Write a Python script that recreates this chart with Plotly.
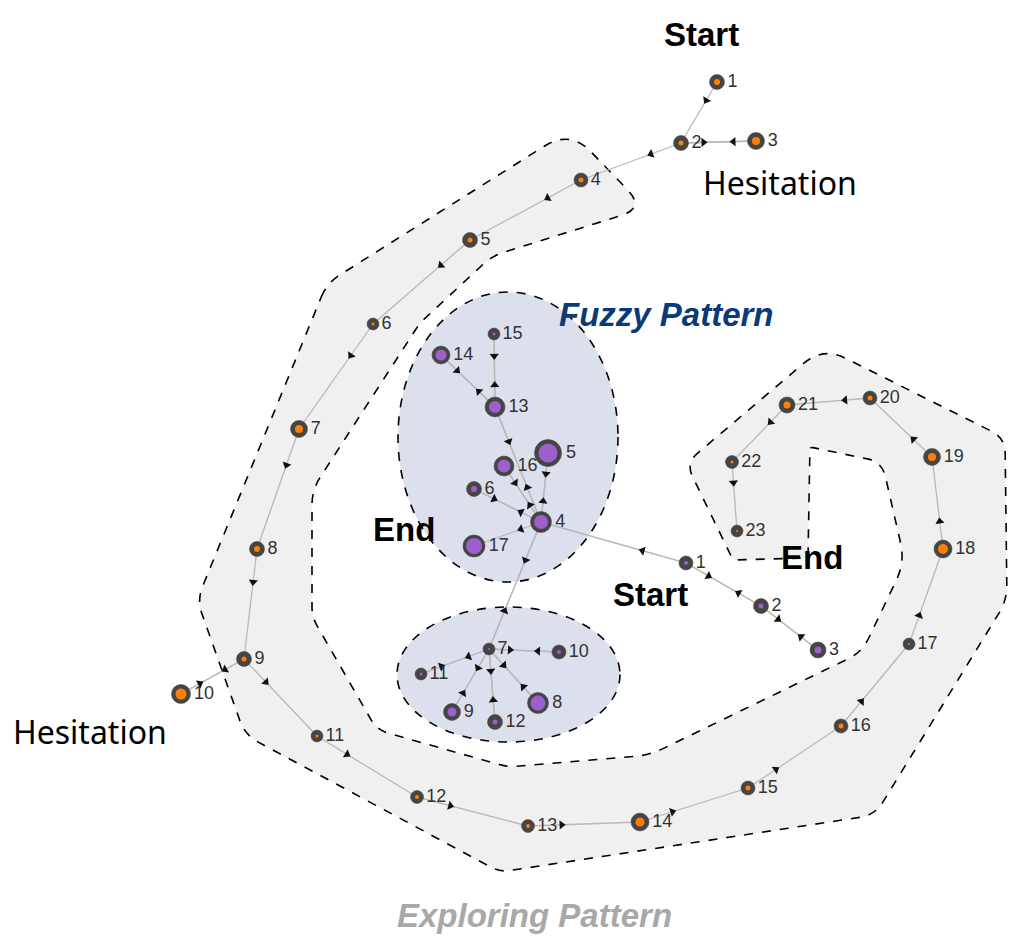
import math
import plotly.graph_objects as go

# exploring pattern (orange) - node ids, positions in picture pixels, sizes
ex_id = list(range(1, 24))
ex_x = [717, 681, 756, 581, 470, 373, 299, 257, 244, 181, 317, 417, 528, 640, 748, 841, 909, 943, 932, 870, 787, 732, 737]
ex_y = [82, 143, 141, 180, 240, 324, 429, 549, 659, 694, 736, 797, 826, 822, 788, 726, 644, 549, 457, 398, 405, 462, 531]
ex_size = [15, 15, 17, 14, 15, 12, 17, 15, 15, 19, 12, 13, 13, 18, 14, 14, 12, 18, 17, 14, 16, 13, 12]
ex_core = [6, 5, 8, 5, 5, 3, 8, 6, 5, 11, 3, 4, 4, 9, 5, 5, 2, 10, 8, 5, 7, 3, 2]
ex_edges = [(1, 2), (2, 3), (3, 2), (2, 4), (4, 5), (5, 6), (6, 7), (7, 8), (8, 9), (9, 10), (10, 9),
            (9, 11), (11, 12), (12, 13), (13, 14), (14, 15), (15, 16), (16, 17), (17, 18), (18, 19),
            (19, 20), (20, 21), (21, 22), (22, 23)]

# fuzzy pattern (purple)
fz_id = list(range(1, 18))
fz_x = [686, 761, 818, 541, 548, 474, 489, 538, 452, 559, 421, 495, 495, 441, 494, 504, 474]
fz_y = [563, 606, 650, 522, 453, 489, 649, 703, 712, 652, 674, 722, 407, 355, 334, 466, 546]
fz_size = [14, 15, 16, 21, 27, 15, 12, 21, 17, 14, 12, 15, 20, 18, 12, 20, 22]
fz_core = [4, 5, 7, 14, 19, 6, 2, 15, 9, 4, 3, 5, 12, 11, 3, 13, 16]
fz_edges = [(1, 2), (2, 3), (3, 2), (2, 1), (1, 4), (4, 5), (5, 4), (4, 6), (6, 4), (4, 7),
            (7, 8), (8, 7), (7, 9), (9, 7), (7, 10), (10, 7), (7, 11), (11, 7), (7, 12), (12, 7),
            (7, 4), (4, 13), (13, 14), (14, 13), (13, 15), (15, 13), (13, 4), (4, 16), (16, 4), (4, 17)]

# outline of the exploring region and the fuzzy ellipses
band_pts = [(327, 283), (570, 130), (645, 208), (492, 256), (420, 323), (312, 490), (312, 617),
            (377, 730), (508, 767), (650, 755), (862, 652), (905, 562), (882, 462), (810, 447),
            (808, 558), (733, 560), (686, 463), (823, 347), (1005, 438), (1007, 600), (875, 815),
            (500, 872), (245, 735), (197, 600)]
band_r = [15, 30, 25, 12, 6, 15, 10, 12, 8, 15, 15, 20, 15, 3, 0, 3, 15, 25, 15, 15, 15, 10, 15, 15]

ORANGE = "#ff7f00"
PURPLE = "#9c5fcc"
RING = "#454545"


def rounded_path(pts, radii):
    n = len(pts)
    out = []
    for i in range(n):
        x0, y0 = pts[i - 1]
        x1, y1 = pts[i]
        x2, y2 = pts[(i + 1) % n]
        d0 = math.hypot(x0 - x1, y0 - y1)
        d2 = math.hypot(x2 - x1, y2 - y1)
        r = min(radii[i], d0 / 2, d2 / 2)
        ax, ay = x1 + (x0 - x1) / d0 * r, y1 + (y0 - y1) / d0 * r
        bx, by = x1 + (x2 - x1) / d2 * r, y1 + (y2 - y1) / d2 * r
        out.append(("M" if i == 0 else "L") + f" {ax:.1f},{ay:.1f}")
        out.append(f"Q {x1},{y1} {bx:.1f},{by:.1f}")
    return " ".join(out) + " Z"


fig = go.Figure()


def add_graph(ids, xs, ys, sizes, cores, edges, color):
    pos = {i: (x, y) for i, x, y in zip(ids, xs, ys)}
    lx, ly = [], []
    ax_, ay_, ang = [], [], []
    for a, b in edges:
        (x0, y0), (x1, y1) = pos[a], pos[b]
        lx += [x0, x1, None]
        ly += [y0, y1, None]
        ax_.append(x0 + 0.3 * (x1 - x0))
        ay_.append(y0 + 0.3 * (y1 - y0))
        ang.append(math.degrees(math.atan2(x1 - x0, -(y1 - y0))))
    fig.add_trace(go.Scatter(x=lx, y=ly, mode="lines", hoverinfo="skip",
                             line=dict(color="#b8b8b8", width=1.3)))
    fig.add_trace(go.Scatter(x=ax_, y=ay_, mode="markers", hoverinfo="skip",
                             marker=dict(symbol="triangle-up", size=8, color="#111", angle=ang)))
    fig.add_trace(go.Scatter(x=xs, y=ys, mode="markers+text", text=[str(i) for i in ids],
                             textposition="middle right",
                             textfont=dict(family="Liberation Sans", size=18, color="#333"),
                             marker=dict(size=sizes, color=RING, opacity=1,
                                         line=dict(color="rgba(70,70,70,0.55)", width=1))))
    fig.add_trace(go.Scatter(x=xs, y=ys, mode="markers", hoverinfo="skip",
                             marker=dict(size=cores, color=color, opacity=1, line=dict(width=0))))


fig.add_shape(type="path", path=rounded_path(band_pts, band_r), layer="below",
              fillcolor="#f0f0f0", line=dict(color="black", width=1.6, dash="dash"))
fig.add_shape(type="circle", x0=398, x1=618, y0=292, y1=582, layer="below",
              fillcolor="#dcdfec", line=dict(color="black", width=1.6, dash="dash"))
fig.add_shape(type="circle", x0=397, x1=620, y0=607, y1=742, layer="below",
              fillcolor="#dcdfec", line=dict(color="black", width=1.6, dash="dash"))

add_graph(ex_id, ex_x, ex_y, ex_size, ex_core, ex_edges, ORANGE)
add_graph(fz_id, fz_x, fz_y, fz_size, fz_core, fz_edges, PURPLE)

labels = [
    ("<b>Start</b>", 701, 34, "black", "Liberation Sans", 33),
    ("Hesitation", 780, 182, "black", "Noto Sans", 32),
    ("<b><i>Fuzzy Pattern</i></b>", 666, 314, "#0b3a78", "Liberation Sans", 33),
    ("<b>End</b>", 404, 529, "black", "Liberation Sans", 33),
    ("<b>Start</b>", 650, 594, "black", "Liberation Sans", 33),
    ("<b>End</b>", 812, 557, "black", "Liberation Sans", 33),
    ("Hesitation", 90, 731, "black", "Noto Sans", 32),
    ("<b><i>Exploring Pattern</i></b>", 534, 915, "#a8a8a8", "Liberation Sans", 33),
]
for txt, x, y, c, fam, fs in labels:
    fig.add_annotation(x=x, y=y, text=txt, showarrow=False, xanchor="center", yanchor="middle",
                       font=dict(family=fam, size=fs, color=c))

fig.update_xaxes(range=[0, 1012], visible=False)
fig.update_yaxes(range=[947, 0], visible=False)
fig.update_layout(width=1012, height=947, margin=dict(l=0, r=0, t=0, b=0),
                  plot_bgcolor="white", paper_bgcolor="white", showlegend=False)

fig.write_html("out.html", config={"displayModeBar": False},
               post_script="document.body.style.margin='0';document.body.style.overflow='hidden';")
